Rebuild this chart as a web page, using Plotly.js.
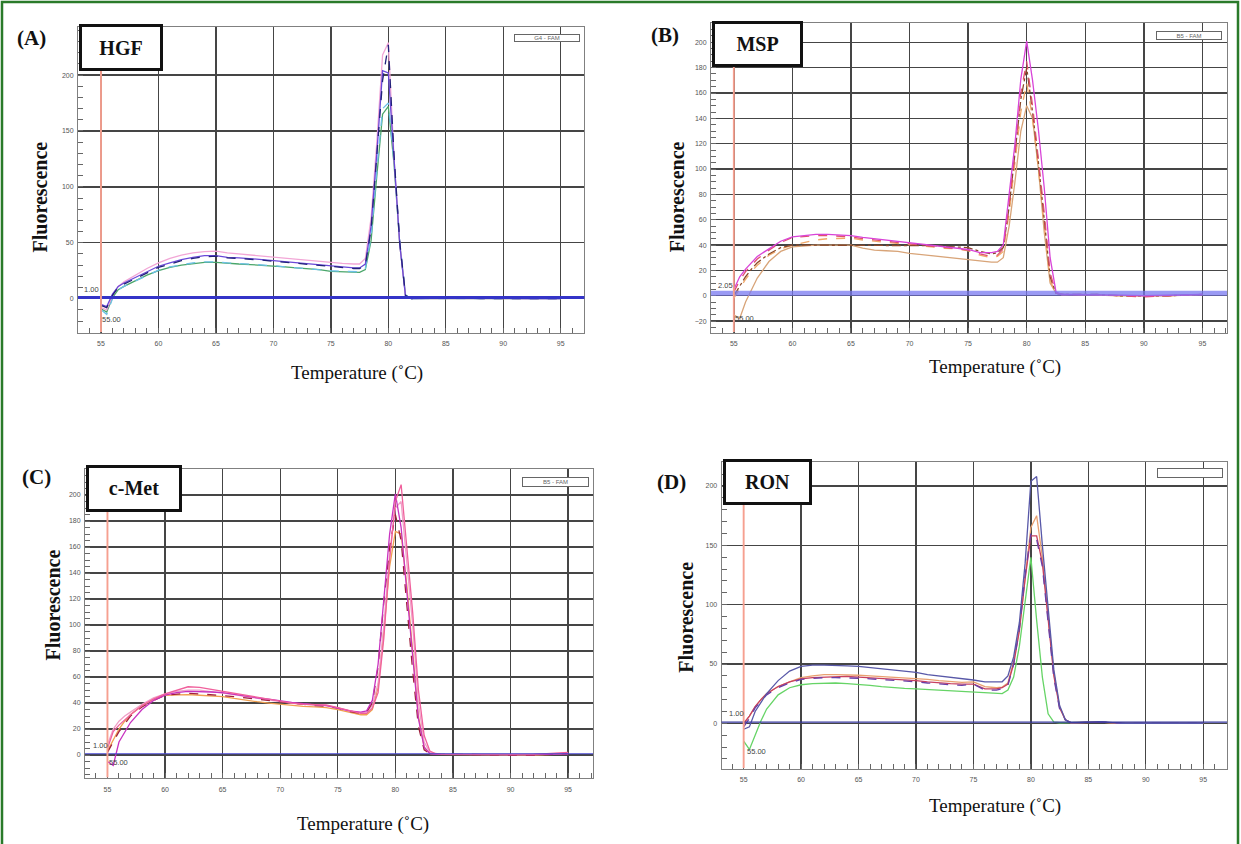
<!DOCTYPE html>
<html>
<head>
<meta charset="utf-8">
<script src="https://cdn.plot.ly/plotly-3.0.1.min.js"></script>
<style>html,body{margin:0;padding:0;background:#fff;}#chart{width:1241px;height:844px;}</style>
</head>
<body>
<div id="chart"></div>
<script>
// Temperature grid (°C)
const temps = [55, 55.5, 56, 56.5, 57, 58, 59, 60, 61, 62, 63, 64, 65, 66, 67, 68, 69, 70, 71, 72, 73, 74, 75, 76, 77, 77.5, 78, 78.5, 79, 79.5, 80, 80.5, 81, 81.5, 82, 82.5, 83, 83.5, 84, 86, 88, 90, 92, 95];
const xTicks = [55, 60, 65, 70, 75, 80, 85, 90, 95];

// (A) HGF
const hgfPink   = [-8, -10, 3, 11, 15, 21, 27, 32, 36, 39, 41, 42, 42.5, 41, 40, 39.5, 38.5, 37.5, 36.5, 35.5, 34.5, 33.5, 32.5, 31.5, 31, 31, 36, 72, 140, 218, 229, 125, 48, 2, 0.5, 0, 0, 0, 0, 0.5, 0.3, 0, 0, 0];
const hgfViolet = [-5, -7, 4, 11, 14, 19, 24, 29, 32, 35, 37, 38.5, 38.5, 37, 36.5, 36, 35, 34, 33, 32, 31, 30, 29, 28, 27.5, 27.5, 31, 65, 130, 204, 202, 125, 48, 2, 0, 0, 0, 0, 0.5, 1, 0.5, 0, 0, 0];
const hgfNavy   = [-6, -8, 3, 10, 13, 18, 23, 28, 31, 34, 36, 37.5, 38, 36.5, 36, 35.5, 34.5, 33.5, 32.5, 31.5, 30.5, 29.5, 28.5, 27.5, 27, 27, 30, 62, 125, 195, 227, 128, 50, 3, 0, 0, 0, 0, 0.5, 1, 0, 0, 0, 0];
const hgfCyan   = [-10, -14, 0, 8, 11, 16, 21, 25.5, 28.5, 30.5, 32, 33, 33, 32, 31.5, 31, 30.5, 29.5, 28.5, 27.5, 27, 26, 25, 24.5, 24, 24, 27, 55, 115, 170, 175, 122, 50, 3, 0, 0, 0, 0, 0, 0.5, 0, 0, 0, 0];
const hgfGreen  = [-9, -12, 1, 8, 11, 16, 21, 25, 28, 30, 31.5, 32.5, 32.5, 31.5, 31, 30.5, 30, 29, 28.5, 27.5, 27, 26, 24.5, 24, 23.5, 23.5, 26, 52, 110, 165, 172, 120, 48, 3, 0, 0, 0, 0, 0, 0.5, 0, 0, 0, 0];
const hgfTicks = [0, 50, 100, 150, 200];

// (B) MSP
const mspMagenta = [5, 15, 21, 26, 31, 37, 43, 46.5, 47.5, 48.5, 48.5, 48, 47.5, 46, 45, 44, 43, 42, 41, 40, 39, 38, 36.5, 34, 34, 35, 40, 80, 120, 171, 201, 170, 131, 85, 30, 3, 1, 1, 1, 1, 0.5, 0, 0.5, 1];
const mspRed     = [3, 12, 19, 24, 29, 36, 42, 46, 47, 47.5, 47.5, 47, 46.5, 45, 44, 43, 42, 41, 40, 39, 38.5, 37.5, 36, 33, 31, 32, 37, 72, 112, 160, 185, 150, 110, 65, 18, 2, 1, 1, 1, 1, 0, -1, 0, 1];
const mspBrown   = [0, 8, 15, 21, 26, 33, 38, 40, 40, 40, 40, 40, 40, 40, 40, 40, 40, 40, 40, 39.5, 39, 38.5, 38, 35, 33, 34, 38, 70, 110, 155, 180, 145, 105, 60, 15, 2, 1, 1, 1, 1, 0, 0, 0, 1];
const mspOrange  = [-2, 6, 13, 19, 24, 32, 37, 40, 42, 44, 45, 45.5, 45.5, 44, 43, 42, 41, 40, 39, 38, 37.5, 37, 35.5, 32, 30, 31, 35, 65, 103, 145, 168, 140, 100, 55, 12, 2, 1, 1, 1, 1, 0, 0, 0, 1];
const mspTan     = [-15, -18, -5, 5, 14, 27, 35, 38.5, 39.5, 40, 40, 40, 40, 37.5, 36, 35.5, 35, 33.5, 32.5, 31, 30, 29.5, 28, 27, 26.5, 26.5, 30, 55, 90, 130, 150, 140, 100, 50, 10, 2, 1, 1, 1, 0.5, 0, 0, 0, 1];
const mspTicks = [-20, 0, 20, 40, 60, 80, 100, 120, 140, 160, 180, 200];

// (C) c-Met
const cmetPink      = [5, 18, 23, 27, 31, 38, 43, 47, 50, 52.5, 52, 50.5, 49, 47, 45.5, 44, 42.5, 41, 40, 39, 38.5, 38.5, 36.5, 34, 32, 32, 36, 48, 90, 150, 195, 208, 160, 110, 50, 15, 3, 1, 0.5, 0.5, 0.3, 0.3, 0.5, 2];
const cmetMagenta   = [-5, -8, 10, 18, 25, 35, 42, 46, 48, 49, 49, 48.5, 48, 46.5, 45, 44, 43, 41.5, 40.5, 39.5, 39, 38, 36, 34, 33, 34, 42, 70, 120, 170, 201, 175, 125, 75, 28, 6, 1, 0.5, 0.5, 0.5, 0.3, 0.3, 0.3, 1];
const cmetDarkRed   = [2, 10, 18, 24, 30, 37, 42, 46, 47, 47.5, 47, 46.5, 46, 45, 44, 43, 41.5, 40.5, 39.5, 38.5, 38, 37.5, 36, 33.5, 32, 33, 40, 68, 118, 160, 185, 165, 115, 65, 22, 4, 1, 0.5, 0.5, 0.5, 0, 0, 0, 1];
const cmetOrange    = [3, 12, 20, 26, 31, 38, 43, 46, 46.5, 46.5, 46, 45.5, 45, 43.5, 42, 41, 40, 39, 38, 37.5, 37, 36.5, 35, 33, 31, 31, 35, 52, 95, 145, 172, 170, 130, 80, 30, 6, 1, 0.5, 0.5, 0.5, 0, 0, 0, 1];
const cmetLightPink = [8, 20, 26, 30, 33, 39, 44, 47, 49, 50, 50, 49, 48, 46.5, 45, 43.5, 42, 41, 40, 39, 38.5, 38, 36.5, 34, 32.5, 33, 38, 55, 100, 155, 190, 195, 150, 100, 40, 10, 2, 1, 0.5, 0.5, 0.3, 0.3, 0.5, 1.5];
const cmetTicks = [0, 20, 40, 60, 80, 100, 120, 140, 160, 180, 200];

// (D) RON
const ronNavy   = [-5, -3, 10, 18, 25, 36, 44, 48, 49, 49, 49, 48.5, 48, 47, 46, 45, 44, 43, 41, 40, 39, 38, 36.5, 35, 35, 35, 40, 56, 85, 135, 204, 208, 150, 95, 45, 15, 3, 0.5, 0.5, 1.5, 0, 0, 0, 0];
const ronOrange = [0, 6, 14, 20, 25, 31, 35, 38.5, 40, 41, 41, 41, 40.5, 40, 39.5, 39, 38.5, 38, 37, 36, 35, 34.5, 35, 31, 30, 30.5, 34, 52, 80, 125, 165, 175, 140, 90, 42, 14, 3, 0.5, 0.5, 1, 0, 0, 0, 0];
const ronRed    = [0, 6, 14, 20, 25, 31, 35, 37.5, 38.5, 39, 39.5, 39.5, 39, 38.5, 38, 37.5, 37, 36, 35, 34, 33.5, 33, 33, 29, 29, 30, 33, 50, 78, 122, 158, 158, 135, 88, 40, 13, 3, 0.5, 0.5, 1, 0, 0, 0, 0];
const ronPurple = [-3, 4, 13, 19, 24, 30, 34, 37, 38, 38.5, 38.5, 38.5, 38, 37.5, 37, 36.5, 36, 35, 34, 33, 32.5, 32, 33, 28, 28, 29, 32, 50, 80, 125, 160, 155, 132, 85, 38, 12, 3, 0.5, 0.5, 1.5, 0, 0, 0, 0];
const ronGreen  = [-15, -22, -10, 2, 12, 24, 30, 32.5, 33.5, 34, 34, 33.5, 33, 32, 31, 30, 29.5, 29, 28.5, 28, 27.5, 27, 26, 25.5, 25, 25, 28, 39, 65, 104, 140, 87, 39, 8, 1, 0.5, 0.5, 0.5, 0.5, 1, 0, 0, 0, 0];
const ronTicks = [0, 50, 100, 150, 200];

const panelLetters = ['(A)', '(B)', '(C)', '(D)'];
const geneNames = ['HGF', 'MSP', 'c-Met', 'RON'];
const channelLabels = ['G4 - FAM', 'B5 - FAM', 'B5 - FAM', ''];
const thresholds = [1.00, 2.05, 1.00, 1.00];

function ln(y, color, ax, dash) {
  return {x: temps, y: y, xaxis: 'x' + ax, yaxis: 'y' + ax, type: 'scatter', mode: 'lines',
    line: {color: color, width: 1.3, dash: dash || 'solid'}, hoverinfo: 'skip', showlegend: false};
}
const traces = [
  ln(hgfGreen, '#4aa66a', ''), ln(hgfCyan, '#6cc0e6', '', 'dash'), ln(hgfPink, '#f2a6d6', ''),
  ln(hgfViolet, '#6a48d8', ''), ln(hgfNavy, '#22227a', '', 'dash'),
  ln(mspTan, '#d8a478', '2'), ln(mspOrange, '#f0a868', '2', 'dash'), ln(mspBrown, '#8c4a2a', '2', 'dashdot'),
  ln(mspRed, '#e0506e', '2', 'dash'), ln(mspMagenta, '#d844d8', '2'),
  ln(cmetOrange, '#f0a050', '3'), ln(cmetLightPink, '#f0a0c8', '3'), ln(cmetDarkRed, '#a0203c', '3', 'dash'),
  ln(cmetMagenta, '#c832c0', '3'), ln(cmetPink, '#f0609c', '3'),
  ln(ronGreen, '#66d466', '4'), ln(ronOrange, '#e8a070', '4'), ln(ronRed, '#c84060', '4'),
  ln(ronPurple, '#6a40a8', '4', 'dash'), ln(ronNavy, '#5858a8', '4')
];

const W = 1241, H = 844;
function px(x) { return x / W; }
function py(y) { return 1 - y / H; }

function xa(dom, range, anchor) {
  return {domain: dom, range: range, anchor: anchor, tickmode: 'array', tickvals: xTicks,
    showgrid: true, gridcolor: '#454545', gridwidth: 1.4, zeroline: false,
    showline: true, linecolor: '#808080', linewidth: 1, mirror: true,
    ticks: 'inside', ticklen: 5, tickcolor: '#666', ticklabelstandoff: 4,
    minor: {dtick: 1, ticks: 'inside', ticklen: 5, tickcolor: '#666', showgrid: false},
    tickfont: {family: 'Liberation Sans, Arial', size: 7, color: '#555'}, fixedrange: true};
}
function ya(dom, range, anchor, ticks, minorStep) {
  return {domain: dom, range: range, anchor: anchor, tickmode: 'array', tickvals: ticks,
    showgrid: true, gridcolor: '#454545', gridwidth: 1.4, zeroline: false,
    showline: true, linecolor: '#808080', linewidth: 1, mirror: true,
    ticks: 'inside', ticklen: 5, tickcolor: '#666', ticklabelstandoff: 2,
    minor: {dtick: minorStep, ticks: 'inside', ticklen: 5, tickcolor: '#666', showgrid: false},
    tickfont: {family: 'Liberation Sans, Arial', size: 7, color: '#555'}, fixedrange: true};
}

const layout = {
  width: W, height: H, margin: {l: 0, r: 0, t: 0, b: 0},
  paper_bgcolor: '#fff', plot_bgcolor: '#fff', showlegend: false,
  xaxis:  xa([px(78), px(584.4)], [53.0, 97.06], 'y'),
  yaxis:  ya([py(333), py(27)], [-30.7, 243], 'x', hgfTicks, 10),
  xaxis2: xa([px(711), px(1227)], [53.05, 97.1], 'y2'),
  yaxis2: ya([py(333), py(23.3)], [-29.4, 215], 'x2', mspTicks, 5),
  xaxis3: xa([px(85), px(593)], [53.05, 97.16], 'y3'),
  yaxis3: ya([py(778.3), py(469.3)], [-17.9, 219.8], 'x3', cmetTicks, 5),
  xaxis4: xa([px(721.6), px(1227)], [53.08, 97.07], 'y4'),
  yaxis4: ya([py(769), py(461.7)], [-38.5, 220.5], 'x4', ronTicks, 10),
  shapes: [], annotations: []
};

const axSuffix = ['', '2', '3', '4'];
const threshStyle = [
  {color: '#3434c8', width: 3},
  {color: 'rgba(120,120,240,0.75)', width: 5},
  {color: '#4646d0', width: 1.2},
  {color: '#34349c', width: 1.2}
];
axSuffix.forEach((s, i) => {
  layout.shapes.push({type: 'line', xref: 'x' + s + ' domain', yref: 'y' + s, x0: 0, x1: 1,
    y0: thresholds[i], y1: thresholds[i], line: threshStyle[i], layer: 'above'});
  // start-temperature marker (covers the grid line at 55 °C)
  layout.shapes.push({type: 'line', xref: 'x' + s, yref: 'y' + s + ' domain', x0: 55, x1: 55,
    y0: 0.003, y1: 0.997, line: {color: '#f6a090', width: 1.9}, layer: 'above'});
});

const smallFont = {family: 'Liberation Sans, Arial', size: 7.5, color: '#444'};
// threshold / start-temperature labels
const thrLabelPos = [[54.2, 8, 55.9, -19], [54.3, 8, 55.9, -18], [54.4, 7, 56.0, -6], [54.4, 8, 56.1, -24]];
axSuffix.forEach((s, i) => {
  const p = thrLabelPos[i];
  layout.annotations.push({xref: 'x' + s, yref: 'y' + s, x: p[0], y: p[1], xanchor: 'center', yanchor: 'middle',
    text: thresholds[i].toFixed(2), showarrow: false, font: smallFont});
  layout.annotations.push({xref: 'x' + s, yref: 'y' + s, x: p[2], y: p[3], xanchor: 'center', yanchor: 'middle',
    text: '55.00', showarrow: false, font: smallFont});
});

const serifFont = 'Liberation Serif, Times New Roman, serif';
// panel letters
const letterPos = [[31.6, 38], [665, 35], [36.6, 477], [671, 482]];
letterPos.forEach((p, i) => layout.annotations.push({xref: 'paper', yref: 'paper', x: px(p[0]), y: py(p[1]),
  xanchor: 'center', yanchor: 'middle', text: '<b>' + panelLetters[i] + '</b>', showarrow: false,
  font: {family: serifFont, size: 21, color: '#111'}}));

// gene name boxes
const boxPos = [[79, 24, 163, 71], [712, 20.7, 803, 66.7], [86, 465, 182, 511.7], [722.8, 459, 811.8, 505]];
boxPos.forEach((b, i) => layout.annotations.push({xref: 'paper', yref: 'paper',
  x: px((b[0] + b[2]) / 2), y: py((b[1] + b[3]) / 2), xanchor: 'center', yanchor: 'middle',
  width: b[2] - b[0] - 6, height: b[3] - b[1] - 6, borderpad: 0,
  text: '<b>' + geneNames[i] + '</b>', showarrow: false, bgcolor: '#fff', bordercolor: '#111', borderwidth: 3,
  font: {family: serifFont, size: 20, color: '#111'}}));

// channel boxes
const chanPos = [[514, 34, 580, 42], [1156, 31, 1222, 40], [522, 477, 589, 487], [1157, 468, 1223, 478]];
chanPos.forEach((b, i) => layout.annotations.push({xref: 'paper', yref: 'paper',
  x: px((b[0] + b[2]) / 2), y: py((b[1] + b[3]) / 2), xanchor: 'center', yanchor: 'middle',
  width: b[2] - b[0] - 2, height: b[3] - b[1] - 2, borderpad: 0,
  text: channelLabels[i] || ' ', showarrow: false, bgcolor: '#fff', bordercolor: '#666', borderwidth: 1,
  font: {family: 'Liberation Sans, Arial', size: 6, color: '#666'}}));

// axis titles
const yTitlePos = [[39.5, 197], [677.3, 197], [53.4, 605], [685.2, 617.5]];
yTitlePos.forEach(p => layout.annotations.push({xref: 'paper', yref: 'paper', x: px(p[0]), y: py(p[1]),
  xanchor: 'center', yanchor: 'middle', text: '<b>Fluorescence</b>', textangle: -90, showarrow: false,
  font: {family: serifFont, size: 20, color: '#111'}}));
const xTitlePos = [[357, 372.7], [994.7, 366.7], [362.8, 824], [994.7, 806]];
xTitlePos.forEach(p => layout.annotations.push({xref: 'paper', yref: 'paper', x: px(p[0]), y: py(p[1]),
  xanchor: 'center', yanchor: 'middle', text: 'Temperature (˚C)', showarrow: false,
  font: {family: serifFont, size: 19, color: '#111'}}));

// outer green frame
layout.shapes.push({type: 'rect', xref: 'paper', yref: 'paper', x0: px(2), x1: px(1238), y0: -0.05, y1: py(2),
  line: {color: '#2a7a2a', width: 2.5}, fillcolor: 'rgba(0,0,0,0)', layer: 'above'});

Plotly.newPlot('chart', traces, layout, {displayModeBar: false, staticPlot: true});
</script>
</body>
</html>
